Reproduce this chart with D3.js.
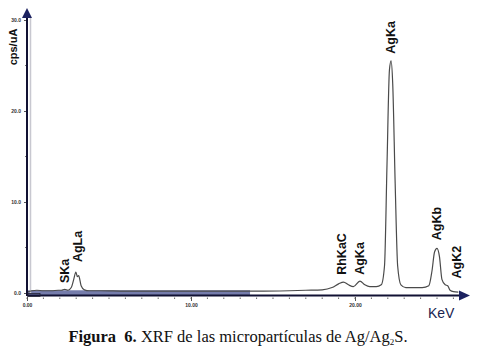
<!DOCTYPE html>
<html>
<head>
<meta charset="utf-8">
<script src="https://cdn.jsdelivr.net/npm/d3@7"></script>
<style>
  body { margin: 0; background: #fff; }
  svg { display: block; }
</style>
</head>
<body>
<svg id="chart" width="478" height="352"></svg>
<script>
// spectrum (keV, cps/uA)
const energy = [0.0, 0.3, 0.6, 1.0, 1.5, 1.9, 2.1, 2.3, 2.5, 2.7, 2.85, 2.98, 3.07, 3.15, 3.3, 3.5, 3.8, 4.5,
    6, 8, 10, 12, 14, 16, 17, 18, 18.6, 19.0, 19.3, 19.6, 19.9, 20.3, 20.6, 20.9, 21.3, 21.6, 21.8, 21.95,
    22.1, 22.2, 22.3, 22.45, 22.6, 22.8, 23.1, 23.6, 24.1, 24.5, 24.7, 24.85, 25.0, 25.15, 25.3, 25.5,
    25.65, 25.8, 26.0, 26.3];
const counts = [0.1, 0.25, 0.3, 0.25, 0.25, 0.3, 0.3, 0.4, 0.3, 0.6, 1.5, 2.3, 1.8, 1.9, 0.8, 0.35, 0.25, 0.25,
    0.2, 0.2, 0.2, 0.2, 0.2, 0.25, 0.3, 0.35, 0.6, 1.0, 1.2, 0.9, 0.7, 1.3, 0.9, 0.7, 0.7, 0.9, 3, 14,
    24.5, 25.5, 23, 12, 3, 0.9, 0.6, 0.6, 0.6, 0.8, 2.5, 4.5, 4.9, 4.0, 1.5, 0.9, 0.8, 0.3, 0.15, 0.1];

// shaded noise band along the baseline (keV range)
const bandRange = [0, 13.6];
const bandTop = 0.3;

const yTicks = [0, 10, 20, 30];
const yMinor = [5, 15, 25];
const xTicks = [0, 10, 20];
const xMinor = d3.range(0, 27);

const peakNames = ['SKa', 'AgLa', 'RhKaC', 'AgKa', 'AgKa', 'AgKb', 'AgK2'];
const peakEnergy = [2.3, 3.1, 19.2, 20.3, 22.2, 25.0, 26.2];
const peakLabelY = [1.1, 3.4, 2.0, 2.0, 26.3, 5.8, 1.6];

const svg = d3.select('#chart');
const x = d3.scaleLinear().domain([0, 26]).range([27, 453.4]);
const y = d3.scaleLinear().domain([0, 30]).range([293, 20]);

const navy = '#1c2260';

// faint blue noise band at the baseline
svg.append('rect')
    .attr('x', x(bandRange[0]))
    .attr('width', x(bandRange[1]) - x(bandRange[0]))
    .attr('y', y(bandTop))
    .attr('height', y(-0.25) - y(bandTop))
    .attr('fill', '#3a4588')
    .attr('opacity', 0.7);

// light guide next to y axis
svg.append('line')
    .attr('x1', 30.5).attr('x2', 30.5)
    .attr('y1', 18).attr('y2', 293)
    .attr('stroke', '#c8c8d0').attr('stroke-width', 1.5);

// spectrum
const line = d3.line()
    .x((d, i) => x(energy[i]))
    .y(d => y(d))
    .curve(d3.curveMonotoneX);
svg.append('path')
    .datum(counts)
    .attr('fill', 'none')
    .attr('stroke', '#4a4a4a')
    .attr('stroke-width', 1.2)
    .attr('d', line);

// y axis
const yAxis = d3.axisLeft(y).tickValues(yTicks).tickSize(3).tickPadding(3)
    .tickFormat(d3.format('.1f'));
const gy = svg.append('g').attr('transform', 'translate(27,0)').call(yAxis);
gy.select('.domain').remove();
gy.selectAll('text').attr('font-size', 5).attr('font-weight', 'bold')
    .attr('font-family', 'Liberation Sans, Arial, sans-serif').attr('fill', '#333');
gy.selectAll('line').attr('stroke', '#555');
svg.append('g').selectAll('line').data(yMinor).join('line')
    .attr('x1', 25).attr('x2', 27)
    .attr('y1', d => y(d)).attr('y2', d => y(d))
    .attr('stroke', '#777');
svg.append('line')
    .attr('x1', 27).attr('x2', 27).attr('y1', 16).attr('y2', 296)
    .attr('stroke', '#111133').attr('stroke-width', 2);
svg.append('path')
    .attr('d', 'M27,8 L22,18 L32,18 Z')
    .attr('fill', navy);

// x axis
svg.append('line')
    .attr('x1', 27).attr('x2', 460).attr('y1', 295.5).attr('y2', 295.5)
    .attr('stroke', '#111133').attr('stroke-width', 2);
svg.append('path')
    .attr('d', 'M470,295.5 L459,290.5 L459,300.5 Z')
    .attr('fill', navy);
svg.append('g').selectAll('line').data(xMinor).join('line')
    .attr('x1', d => x(d)).attr('x2', d => x(d))
    .attr('y1', 297.5).attr('y2', 299)
    .attr('stroke', '#666');
const xAxis = d3.axisBottom(x).tickValues(xTicks).tickSize(4).tickPadding(2)
    .tickFormat(d3.format('.2f'));
const gx = svg.append('g').attr('transform', 'translate(0,297)').call(xAxis);
gx.select('.domain').remove();
gx.selectAll('text').attr('font-size', 5).attr('font-weight', 'bold')
    .attr('font-family', 'Liberation Sans, Arial, sans-serif').attr('fill', '#333');
gx.selectAll('line').attr('stroke', '#555');

// origin box
svg.append('rect')
    .attr('x', 28).attr('y', 293.5).attr('width', 12).attr('height', 3)
    .attr('fill', 'none').attr('stroke', '#223').attr('stroke-width', 0.8);

// peak labels
svg.append('g').selectAll('text').data(peakNames).join('text')
    .attr('transform', (d, i) => `translate(${x(peakEnergy[i]) + 4},${y(peakLabelY[i])}) rotate(-90)`)
    .attr('font-family', 'Liberation Sans, Arial, sans-serif')
    .attr('font-weight', 'bold')
    .attr('font-size', 12.5)
    .attr('fill', '#111')
    .text(d => d);

// axis titles
svg.append('text')
    .attr('transform', 'translate(17,47) rotate(-90)')
    .attr('text-anchor', 'middle')
    .attr('font-family', 'Liberation Sans, Arial, sans-serif')
    .attr('font-weight', 'bold')
    .attr('font-size', 11)
    .attr('fill', '#111')
    .text('cps/uA');
svg.append('text')
    .attr('x', 428).attr('y', 318)
    .attr('font-family', 'Liberation Sans, Arial, sans-serif')
    .attr('font-size', 14)
    .attr('fill', '#1a2450')
    .text('KeV');

// caption
const cap = svg.append('text')
    .attr('x', 238).attr('y', 342)
    .attr('text-anchor', 'middle')
    .attr('font-family', 'Liberation Serif, Times New Roman, serif')
    .attr('font-size', 16.5)
    .attr('fill', '#111')
    .style('white-space', 'pre');
cap.append('tspan').attr('font-weight', 'bold').text('Figura\u00a0\u00a06.');
cap.append('tspan').text(' XRF de las micropartículas de Ag/Ag');
cap.append('tspan').attr('font-size', 9).attr('dy', 3).text('2');
cap.append('tspan').attr('dy', -3).text('S.');
</script>
</body>
</html>
